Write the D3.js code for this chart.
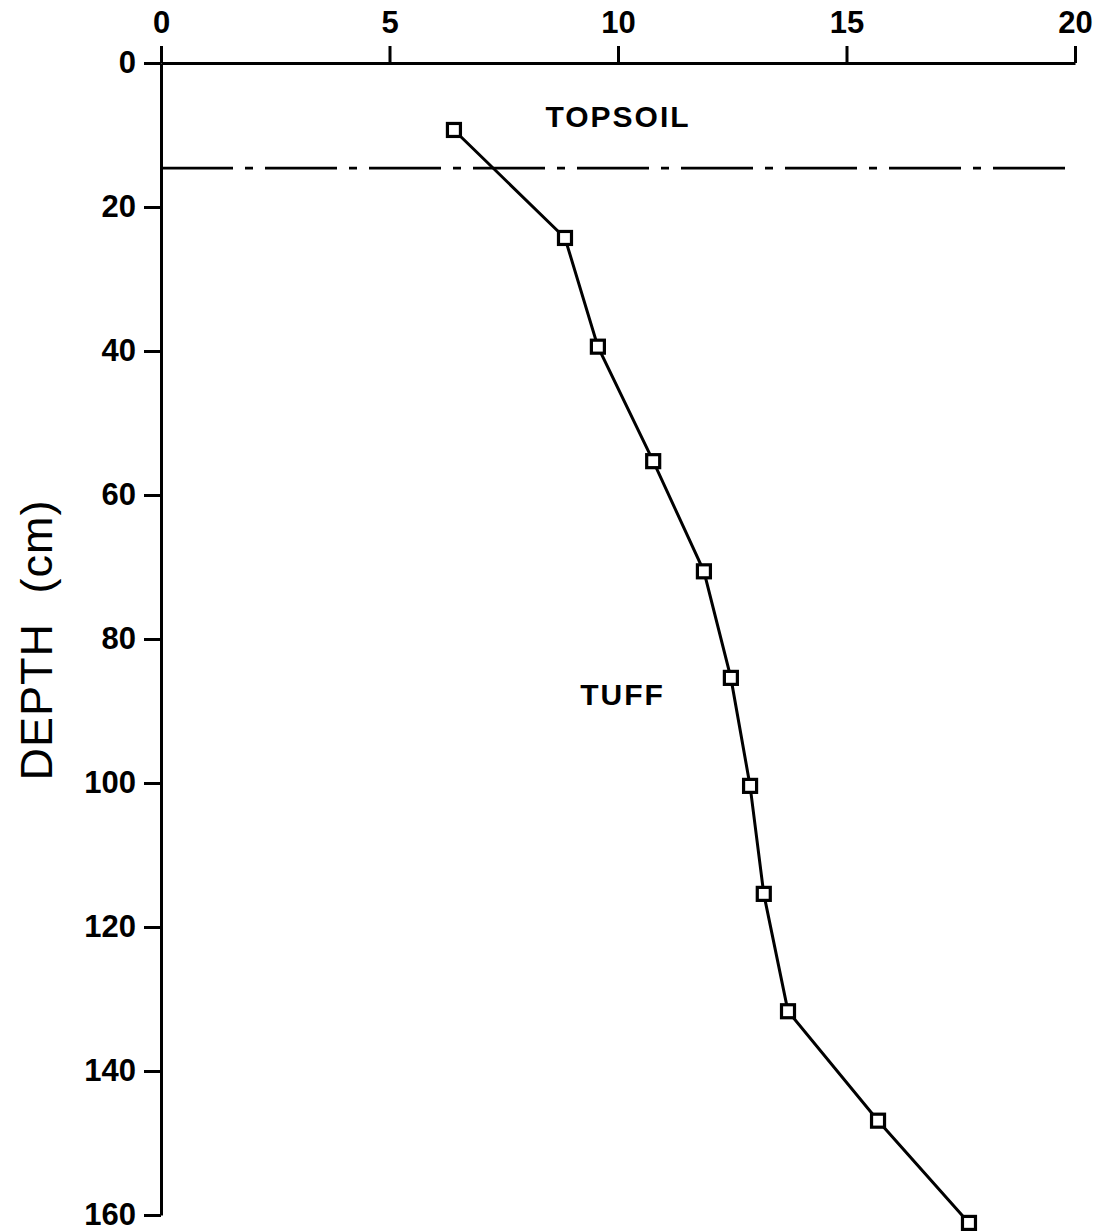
<!DOCTYPE html>
<html>
<head>
<meta charset="utf-8">
<script src="https://cdn.jsdelivr.net/npm/d3@7"></script>
<style>
  html, body { margin: 0; padding: 0; background: #fff; }
  svg { display: block; }
  text { font-family: "Liberation Sans", Arial, sans-serif; fill: #000; }
</style>
</head>
<body>
<script>
// Measured profile: value (top axis) against depth in cm
const values = [6.41, 8.84, 9.56, 10.77, 11.88, 12.47, 12.89, 13.19, 13.72, 15.69, 17.68];
const depths = [9.3, 24.3, 39.4, 55.3, 70.6, 85.4, 100.4, 115.4, 131.7, 146.9, 161.1];

const xTicks = [0, 5, 10, 15, 20];
const yTicks = [0, 20, 40, 60, 80, 100, 120, 140, 160];

// Boundary between the two layers
const boundaryDepth = [14.6];
const layerLabels = ["TOPSOIL", "TUFF"];
const layerLabelPos = [{ v: 10, d: 7.8 }, { v: 10.1, d: 88 }];
const yTitle = "DEPTH (cm)";

const W = 1103, H = 1231;
const margin = { left: 161, top: 63 };

const svg = d3.select("body").append("svg").attr("width", W).attr("height", H);

const x = d3.scaleLinear().domain([0, 20]).range([margin.left, 1075]);
const y = d3.scaleLinear().domain([0, 160]).range([margin.top, 1215]);

// Top axis
const xAxis = svg.append("g")
  .attr("transform", `translate(0,${margin.top})`)
  .call(d3.axisTop(x).tickValues(xTicks).tickSize(17).tickPadding(13).tickSizeOuter(0));
xAxis.select(".domain").attr("stroke-width", 3);
xAxis.selectAll(".tick line").attr("stroke-width", 3);
xAxis.selectAll(".tick text")
  .style("font-size", "31px").style("font-weight", "bold");

// Left axis
const yAxis = svg.append("g")
  .attr("transform", `translate(${margin.left},0)`)
  .call(d3.axisLeft(y).tickValues(yTicks).tickSize(17).tickPadding(8).tickSizeOuter(0));
yAxis.select(".domain").attr("stroke-width", 3);
yAxis.selectAll(".tick line").attr("stroke-width", 3);
yAxis.selectAll(".tick text")
  .style("font-size", "31px").style("font-weight", "bold");

// Axis title
svg.append("text")
  .attr("transform", `translate(52,640) rotate(-90)`)
  .attr("text-anchor", "middle")
  .style("font-size", "45px")
  .style("word-spacing", "16px")
  .style("letter-spacing", "1px")
  .text(yTitle);

// Layer boundary (dash-dot)
svg.selectAll("line.boundary").data(boundaryDepth).join("line")
  .attr("class", "boundary")
  .attr("x1", x(0)).attr("x2", x(20))
  .attr("y1", d => y(d)).attr("y2", d => y(d))
  .attr("stroke", "#000").attr("stroke-width", 2.8)
  .attr("stroke-dasharray", "72 12 8 12");

// Layer labels
svg.selectAll("text.layer").data(layerLabels).join("text")
  .attr("class", "layer")
  .attr("x", (d, i) => x(layerLabelPos[i].v))
  .attr("y", (d, i) => y(layerLabelPos[i].d))
  .attr("text-anchor", "middle")
  .attr("dominant-baseline", "middle")
  .style("font-size", "30px")
  .style("font-weight", "bold")
  .style("letter-spacing", "2px")
  .text(d => d);

// Profile line
const pts = values.map((v, i) => [v, depths[i]]);
svg.append("path")
  .datum(pts)
  .attr("fill", "none")
  .attr("stroke", "#000")
  .attr("stroke-width", 3)
  .attr("d", d3.line().x(d => x(d[0])).y(d => y(d[1])));

// Square markers
const s = 13;
svg.selectAll("rect.pt").data(pts).join("rect")
  .attr("class", "pt")
  .attr("x", d => x(d[0]) - s / 2)
  .attr("y", d => y(d[1]) - s / 2)
  .attr("width", s).attr("height", s)
  .attr("fill", "#fff")
  .attr("stroke", "#000")
  .attr("stroke-width", 3.2);
</script>
</body>
</html>
